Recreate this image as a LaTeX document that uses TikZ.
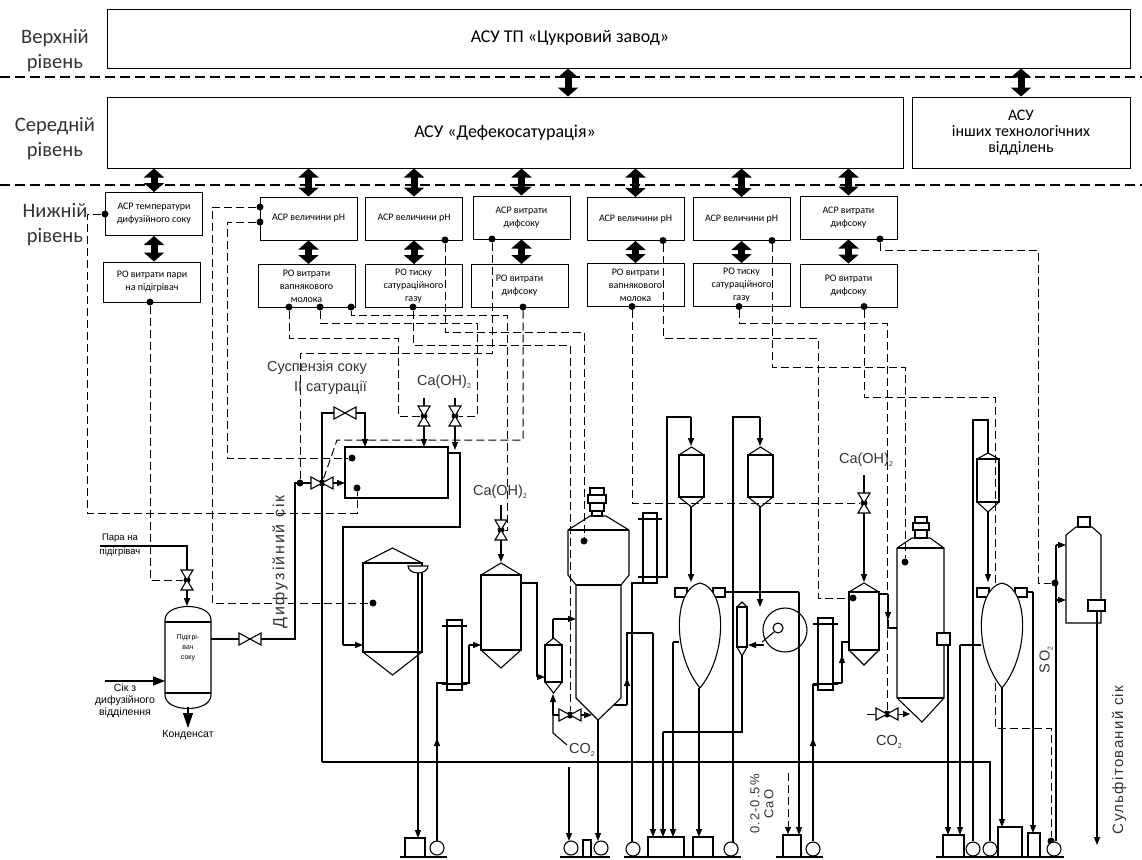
\documentclass[tikz,border=0pt]{standalone}
\usepackage{fontspec}
\setmainfont{Carlito}
\newfontfamily\arialf{Liberation Sans}
\usetikzlibrary{arrows.meta,positioning,calc}

\tikzset{
  pipe/.style={line width=1.1pt},
  flow/.style={line width=1.1pt,-{Triangle[width=6pt,length=8pt]}},
  sig/.style={line width=1pt,dash pattern=on 8pt off 4pt},
  dbl/.style={line width=7pt,{Triangle[width=20pt,length=9pt]}-{Triangle[width=20pt,length=9pt]}},
  asr/.style={draw,line width=1pt,minimum width=97pt,minimum height=43pt,align=center,inner sep=1pt,font=\fontsize{10}{13}\selectfont},
  dot/.style={circle,fill,inner sep=0pt,minimum size=7pt},
  lvl/.style={align=center,text=black!80,font=\fontsize{20.5}{25}\selectfont},
  proc/.style={align=center,inner sep=0pt,text=black!80,font=\arialf\fontsize{14.5}{16}\selectfont},
}

% small lowered index
\newcommand{\ind}[1]{\raisebox{-3pt}{\fontsize{7}{8}\selectfont #1}}
% aparat: xl xr ytop ybot roof cone
\newcommand{\apparat}[6]{%
  \draw[pipe] (#1,#3) rectangle (#2,#4);
  \draw[pipe] (#1,#3) -- ({(#1+#2)/2},#3-#5) -- (#2,#3);
  \draw[pipe] (#1,#4) -- ({(#1+#2)/2},#4+#6) -- (#2,#4);}
\newcommand{\kolona}[4]{%
  \draw[pipe] (#1,#3) rectangle (#2,#4);
  \draw[pipe] (#1-5,#3+6) -- (#2+5,#3+6) (#1-5,#4-6) -- (#2+5,#4-6);}
\newcommand{\vklapan}[2]{\draw[pipe,fill=white] (#1-6,#2-10) -- (#1+6,#2-10) -- (#1-6,#2+10) -- (#1+6,#2+10) -- cycle;}
\newcommand{\hklapan}[2]{\draw[pipe,fill=white] (#1-11,#2-6) -- (#1-11,#2+6) -- (#1+11,#2-6) -- (#1+11,#2+6) -- cycle;}
\newcommand{\yajce}[4]{%
  \draw[pipe,fill=white] (#1-#4-3,#2+5) rectangle (#1-#4+9,#2+14) (#1+#4-9,#2+5) rectangle (#1+#4+3,#2+14);
  \draw[pipe,fill=white] (#1,#3) .. controls (#1-#4*1.3,#3-35) and (#1-#4*1.2,#2+5) .. (#1,#2)
    .. controls (#1+#4*1.2,#2+5) and (#1+#4*1.3,#3-35) .. (#1,#3);}
\newcommand{\nasos}[2]{\draw[pipe,fill=white] (#1,#2) circle (7pt);}

\begin{document}
\begin{tikzpicture}[x=1pt,y=-1pt]
\useasboundingbox (0,0) rectangle (1142,859);
\fill[white] (0,0) rectangle (1142,859);

% levels
\node[lvl] (lverh) at (55,51) {Верхній\\рівень};
\node[lvl] (lser) at (55,139) {Середній\\рівень};
\node[lvl] (lnyzh) at (55,225) {Нижній\\рівень};
\draw[line width=1.1pt,dash pattern=on 10pt off 5pt] (0,77) -- (1142,77);
\draw[line width=1.1pt,dash pattern=on 10pt off 5pt] (0,185) -- (1142,185);

% upper and middle level
\node[draw,line width=1pt,minimum width=1023pt,minimum height=58pt] (verh) at (618.5,39) {};
\node[font=\fontsize{18}{20}\selectfont] (verhtxt) at (570,38) {АСУ ТП «Цукровий завод»};
\node[draw,line width=1pt,minimum width=796pt,minimum height=71pt,font=\fontsize{18}{20}\selectfont] (defeko) at (505,132.5) {АСУ «Дефекосатурація»};
\node[draw,line width=1pt,minimum width=218pt,minimum height=71pt,align=center,font=\fontsize{16}{16}\selectfont] (inshi) at (1021,132.5) {АСУ\\інших технологічних\\відділень};
\coordinate (sv) at (568,0);
\draw[dbl] (verh.south -| sv) -- (defeko.north -| sv);
\draw[dbl] (verh.south -| inshi.north) -- (inshi.north);

% lower level
\node[asr] (asr1) at (154,214) {АСР температури\\дифузійного соку};
\node[asr] (asr2) at (308.5,218.5) {АСР величини рН};
\node[asr] (asr3) at (414,218.5) {АСР величини рН};
\node[asr] (asr4) at (521.5,217.5) {АСР витрати\\дифсоку};
\node[asr] (asr5) at (635.5,219) {АСР величини рН};
\node[asr] (asr6) at (741.5,219) {АСР величини рН};
\node[asr] (asr7) at (848.5,217.5) {АСР витрати\\дифсоку};
\node[asr,minimum height=40pt] (ro1) at (152,282) {РО витрати пари\\на підігрівач};
\node[asr] (ro2) at (306.5,286) {РО витрати\\вапнякового\\молока};
\node[asr] (ro3) at (413.5,286) {РО тиску\\сатураційного\\газу};
\node[asr] (ro4) at (519.5,286) {РО витрати\\дифсоку};
\node[asr] (ro5) at (635.5,285) {РО витрати\\вапнякового\\молока};
\node[asr] (ro6) at (741.5,285) {РО тиску\\сатураційного\\газу};
\node[asr] (ro7) at (848.5,285.5) {РО витрати\\дифсоку};
\foreach \n in {1,...,7}{
  \draw[dbl] (defeko.south -| asr\n.north) -- (asr\n.north);
  \draw[dbl] (asr\n.south) -- (asr\n.south |- ro\n.north);
}

% signal points
\node[dot] (s1) at (105,214) {};
\node[dot] (s2a) at (260,207) {};
\node[dot] (s2b) at (260,222) {};
\node[dot] (s3) at (445,240) {};
\node[dot] (s4) at (492,239) {};
\node[dot] (s5) at (663,240.5) {};
\node[dot] (s6) at (772,240.5) {};
\node[dot] (s7) at (880,239) {};
\node[dot] (r1) at (150,302) {};
\node[dot] (r2a) at (289,307) {};
\node[dot] (r2b) at (320,307) {};
\node[dot] (r2c) at (351,307) {};
\node[dot] (r3) at (413,307) {};
\node[dot] (r4) at (523,307) {};
\node[dot] (r5) at (632,306.5) {};
\node[dot] (r6) at (739,306.5) {};
\node[dot] (r7) at (864,306.5) {};
\node[dot] (dv1) at (187,580) {};
\node[dot] (dt1) at (352,458) {};
\node[dot] (dt2) at (357,488) {};
\node[dot] (dva) at (373,603) {};
\node[dot] (ddif) at (300,483) {};
\node[dot] (dvd) at (322,483) {};
\node[dot] (dk1) at (424,416) {};
\node[dot] (dk2) at (455,416) {};
\node[dot] (dkc) at (501,530) {};
\node[dot] (dco1) at (570,715) {};
\node[dot] (dse) at (584,541) {};
\node[dot] (dkm) at (864,503) {};
\node[dot] (dm) at (853,598) {};
\node[dot] (dco2) at (887,714) {};
\node[dot] (dsn) at (905,562) {};
\node[dot] (dso) at (1055,583) {};
\node[dot] (dpn) at (1051,841) {};

% signal lines
\draw[sig] (s1) -| (87,513) -| (dt2);
\draw[sig] (r1) |- (dv1);
\draw[sig] (s2a) -| (212,603) -- (dva);
\draw[sig] (s2b) -| (227,458) -- (dt1);
\draw[sig] (r2a) |- (398,338) |- (dk1);
\draw[sig] (r2b) |- (477,323) |- (dk2);
\draw[sig] (r2c) |- (507,315) |- (dkc);
\draw[sig] (r3) |- (570,345) -- (dco1);
\draw[sig] (s3) |- (584,332) -- (dse);
\draw[sig] (s4) |- (300,353) -- (ddif);
\draw[sig] (r4) |- (337,440) -- (dvd);
\draw[sig] (r5) |- (dkm);
\draw[sig] (s5) |- (818,338) |- (dm);
\draw[sig] (r6) |- (887,323) -- (dco2);
\draw[sig] (s6) |- (905,367) -- (dsn);
\draw[sig] (s7) |- (1038,250) |- (dso);
\draw[sig] (r7) |- (995,397) |- (1051,728) -- (dpn);

% heater
\draw[pipe] (165,620) -- (165,695) .. controls (165,713) and (211,713) .. (211,695) -- (211,620) .. controls (211,602) and (165,602) .. (165,620) -- cycle;
\draw[pipe] (165,622) -- (211,622) (165,693) -- (211,693);
\node[font=\arialf\fontsize{7}{10}\selectfont,align=center] (pidigr) at (188,648) {Підігрі-\\вач\\соку};
\node[font=\arialf\fontsize{9.5}{14}\selectfont,align=center] (para) at (120,545) {Пара на\\підігрівач};
\draw[pipe] (100,546) -| (187,570);
\vklapan{187}{580}
\draw[flow] (187,590) -- (187,606);
\draw[pipe,-{Triangle[width=9pt,length=12pt]}] (105,681) -- (165,681);
\node[font=\arialf\fontsize{10.5}{12}\selectfont,align=center] (sik) at (125,701) {Сік з\\дифузійного\\відділення};
\draw[pipe,-{Triangle[width=10pt,length=15pt]}] (188,707) -- (188,728);
\node[font=\arialf\fontsize{10.5}{12}\selectfont] (kond) at (188,735) {Конденсат};

% diffusion juice
\draw[pipe] (211,639) -- (239,639);
\hklapan{250}{639}
\draw[pipe] (261,639) -| (295,483) -- (311,483);
\draw[flow] (333,483) -- (345,483);
\node[rotate=90,text=black!80,font=\arialf\fontsize{16}{18}\selectfont\addfontfeature{LetterSpace=12}] (dyfsik) at (280,562) {Дифузійний сік};

% juice suspension and mixer
\draw[pipe] (322,762) -- (322,413) -- (334,413);
\hklapan{345}{413}
\draw[flow] (356,413) -| (365,447);
\hklapan{322}{483}
\node[align=right,anchor=east,inner sep=0pt,text=black!80,font=\arialf\fontsize{14.5}{20}\selectfont] (susp) at (367,378) {Суспензія соку\\II сатурації};
\node[draw,line width=1.1pt,minimum width=103pt,minimum height=51pt] (zmish) at (396.5,472.5) {};
\node[proc] (caoh1) at (444,382) {Ca(OH)\ind{2}};
\draw[pipe] (424,398) -- (424,406);
\vklapan{424}{416}
\draw[flow] (424,426) -- (424,447);
\draw[pipe] (455,398) -- (455,406);
\vklapan{455}{416}
\draw[flow] (455,426) -- (455,450);
\draw[pipe] (448,453) -- (460,453) -- (460,527) -| (343,645);
\draw[flow] (343,645) -- (363,645);

% vessel A and column B
\apparat{363}{422}{563}{652}{15}{23}
\draw[pipe,fill=white] (428,566) arc (0:-180:10pt and 7pt) -- cycle;
\draw[flow] (418,573) -- (418,838);
\kolona{447}{462}{620}{690}
\draw[flow] (437,841) -- (437,738);
\draw[pipe] (437,740) |- (447,683);
\draw[pipe] (462,683) -- (469,683) -- (469,645);
\draw[flow] (469,645) -- (481,645);

% vessel C and D
\apparat{481}{521}{575}{650}{12}{18}
\node[proc] (caoh2) at (500,492) {Ca(OH)\ind{2}};
\draw[pipe] (501,505) -- (501,520);
\vklapan{501}{530}
\draw[flow] (501,540) -- (501,562);
\draw[pipe] (521,583) -- (537,583) -- (537,677);
\draw[flow] (537,677) -- (545,677);
\apparat{545}{562}{645}{682}{7}{11}
\draw[pipe] (553,638) -- (553,619);
\draw[flow] (553,619) -- (576,619);
\draw[pipe] (567,745) -- (553,733) -- (553,715);
\draw[flow] (553,715) -- (553,694);
\draw[pipe] (553,715) -- (559,715);
\hklapan{570}{715}
\draw[flow] (581,715) -- (592,715);
\node[proc] (co2a) at (582,750) {CO\ind{2}};

% saturator I
\draw[pipe] (590,488) rectangle (604,495) (588,495) rectangle (606,503) (590,503) rectangle (604,511) (592,511) rectangle (602,516);
\draw[pipe] (568,575) -- (568,530) -- (590,516) -- (606,516) -- (629,530) -- (629,575) -- (621,585) -- (621,698) -- (598,720) -- (576,698) -- (576,585) -- cycle;
\draw[pipe] (568,530) -- (629,530) (576,585) -- (621,585);
\draw[flow] (598,720) -- (598,841);
\draw[flow] (569,767) -- (569,841);
\draw[pipe] (614,705) -- (627,705);
\draw[flow] (627,705) -- (627,678);
\draw[pipe] (627,680) -- (627,633) -- (653,633);
\draw[flow] (653,633) -- (653,837);
\kolona{643}{657}{513}{583}
\draw[pipe] (632,842) -- (632,583) -- (643,583);
\draw[pipe] (657,577) -- (667,577) -- (667,417) -- (691,417);
\draw[flow] (691,417) -- (691,446);

% filtration
\apparat{679}{704}{455}{497}{8}{10}
\draw[flow] (691,507) -- (691,582);
\yajce{700}{583}{688}{22}
\draw[flow] (699,688) -- (699,837);
\draw[pipe] (725,592) -- (799,592);
\draw[flow] (799,592) -- (799,835);
\draw[pipe] (679,642) -- (673,642);
\draw[flow] (673,642) -- (673,837);
\apparat{748}{773}{455}{497}{8}{10}
\draw[pipe] (733,842) -- (733,417) -- (760,417);
\draw[flow] (760,417) -- (760,446);
\draw[flow] (760,507) -- (760,607);
\draw[pipe] (785,630) circle (22pt);
\draw[pipe] (778,628) circle (5pt);
\draw[pipe] (774,632) -- (762,642);
\draw[flow] (764,645) -- (748,645);
\apparat{737}{747}{607}{647}{5}{9}
\draw[pipe] (742,656) -- (742,732) -- (663,732);
\draw[flow] (663,732) -- (663,837);

% vessel M and column Q
\apparat{849}{879}{592}{650}{9}{15}
\node[proc] (caoh3) at (866,460) {Ca(OH)\ind{2}};
\draw[pipe] (864,475) -- (864,493);
\vklapan{864}{503}
\draw[flow] (864,513) -- (864,582);
\kolona{818}{833}{618}{690}
\draw[flow] (813,841) -- (813,738);
\draw[pipe] (813,740) |- (818,685);
\draw[pipe] (833,683) -- (842,683);
\draw[flow] (842,683) -- (842,655);
\draw[pipe] (842,657) |- (849,642);
\draw[pipe] (879,594) -- (888,594);
\draw[flow] (888,594) -- (888,620);
\draw[pipe] (888,620) |- (897,628);

% saturator II
\draw[pipe] (915,517) rectangle (927,523) (913,523) rectangle (929,530) (915,530) rectangle (927,538);
\draw[pipe] (897,698) -- (897,548) -- (912,538) -- (930,538) -- (944,548) -- (944,698) -- (922,722) -- cycle;
\draw[pipe] (897,548) -- (944,548) (897,698) -- (944,698);
\draw[pipe,fill=white] (937,633) rectangle (950,645);
\draw[flow] (948,645) -- (948,835);
\draw[sig] (867,714) -- (876,714);
\hklapan{887}{714}
\draw[sig,-{Triangle[width=6pt,length=7pt]}] (898,714) -- (910,714);
\node[proc] (co2b) at (889,742) {CO\ind{2}};

% filtration II
\draw[pipe] (973,841) -- (973,420) -- (988,420) -- (988,453);
\apparat{977}{999}{459}{502}{6}{10}
\draw[flow] (988,512) -- (988,582);
\yajce{1002}{583}{688}{22}
\draw[flow] (1002,688) -- (1002,827);
\draw[pipe] (1027,592) -- (1033,592);
\draw[flow] (1033,592) -- (1033,833);
\draw[pipe] (981,645) -- (960,645);
\draw[flow] (960,645) -- (960,835);

% sulfitator
\draw[pipe] (1078,517) rectangle (1090,527);
\draw[pipe] (1066,623) -- (1066,535) -- (1076,527) -- (1092,527) -- (1101,535) -- (1101,623) -- cycle;
\draw[pipe,fill=white] (1088,600) rectangle (1105,611);
\draw[flow] (1097,611) -- (1097,845);
\draw[pipe] (1056,841) -- (1056,545);
\draw[flow] (1056,545) -- (1066,545);
\draw[flow] (1056,600) -- (1066,600);
\node[proc,rotate=90] (so2) at (1046,660) {S\,O\ind{2}};
\node[rotate=90,text=black!80,font=\arialf\fontsize{15}{17}\selectfont\addfontfeature{LetterSpace=9}] (sulf) at (1119,760) {Сульфітований сік};
\node[rotate=90,align=center,text=black!80,font=\arialf\fontsize{13}{14}\selectfont\addfontfeature{LetterSpace=8}] (cao) at (762,804) {0.2-0.5\%\\CaO};
\draw[sig,-{Triangle[width=6pt,length=7pt]}] (788,773) -- (788,834);

% main line
\draw[pipe] (322,762) -| (990,841);

% pumps
\draw[pipe] (405,838) rectangle (425,857);
\nasos{437}{848}
\draw[pipe] (400,857) -- (447,857);
\draw[pipe] (583,840) rectangle (591,857);
\nasos{571}{848}
\nasos{601}{848}
\draw[pipe] (560,857) -- (610,857);
\nasos{633}{849}
\draw[pipe] (648,837) rectangle (684,857) (693,837) rectangle (713,857);
\nasos{731}{849}
\draw[pipe] (624,857) -- (741,857);
\draw[pipe] (783,835) rectangle (801,857);
\nasos{813}{849}
\draw[pipe] (776,857) -- (823,857);
\draw[pipe] (943,835) rectangle (964,857);
\nasos{973}{849}
\nasos{990}{849}
\draw[pipe] (998,827) rectangle (1022,857) (1028,833) rectangle (1040,857);
\nasos{1054}{849}
\draw[pipe] (936,857) -- (1064,857);
\end{tikzpicture}
\end{document}
